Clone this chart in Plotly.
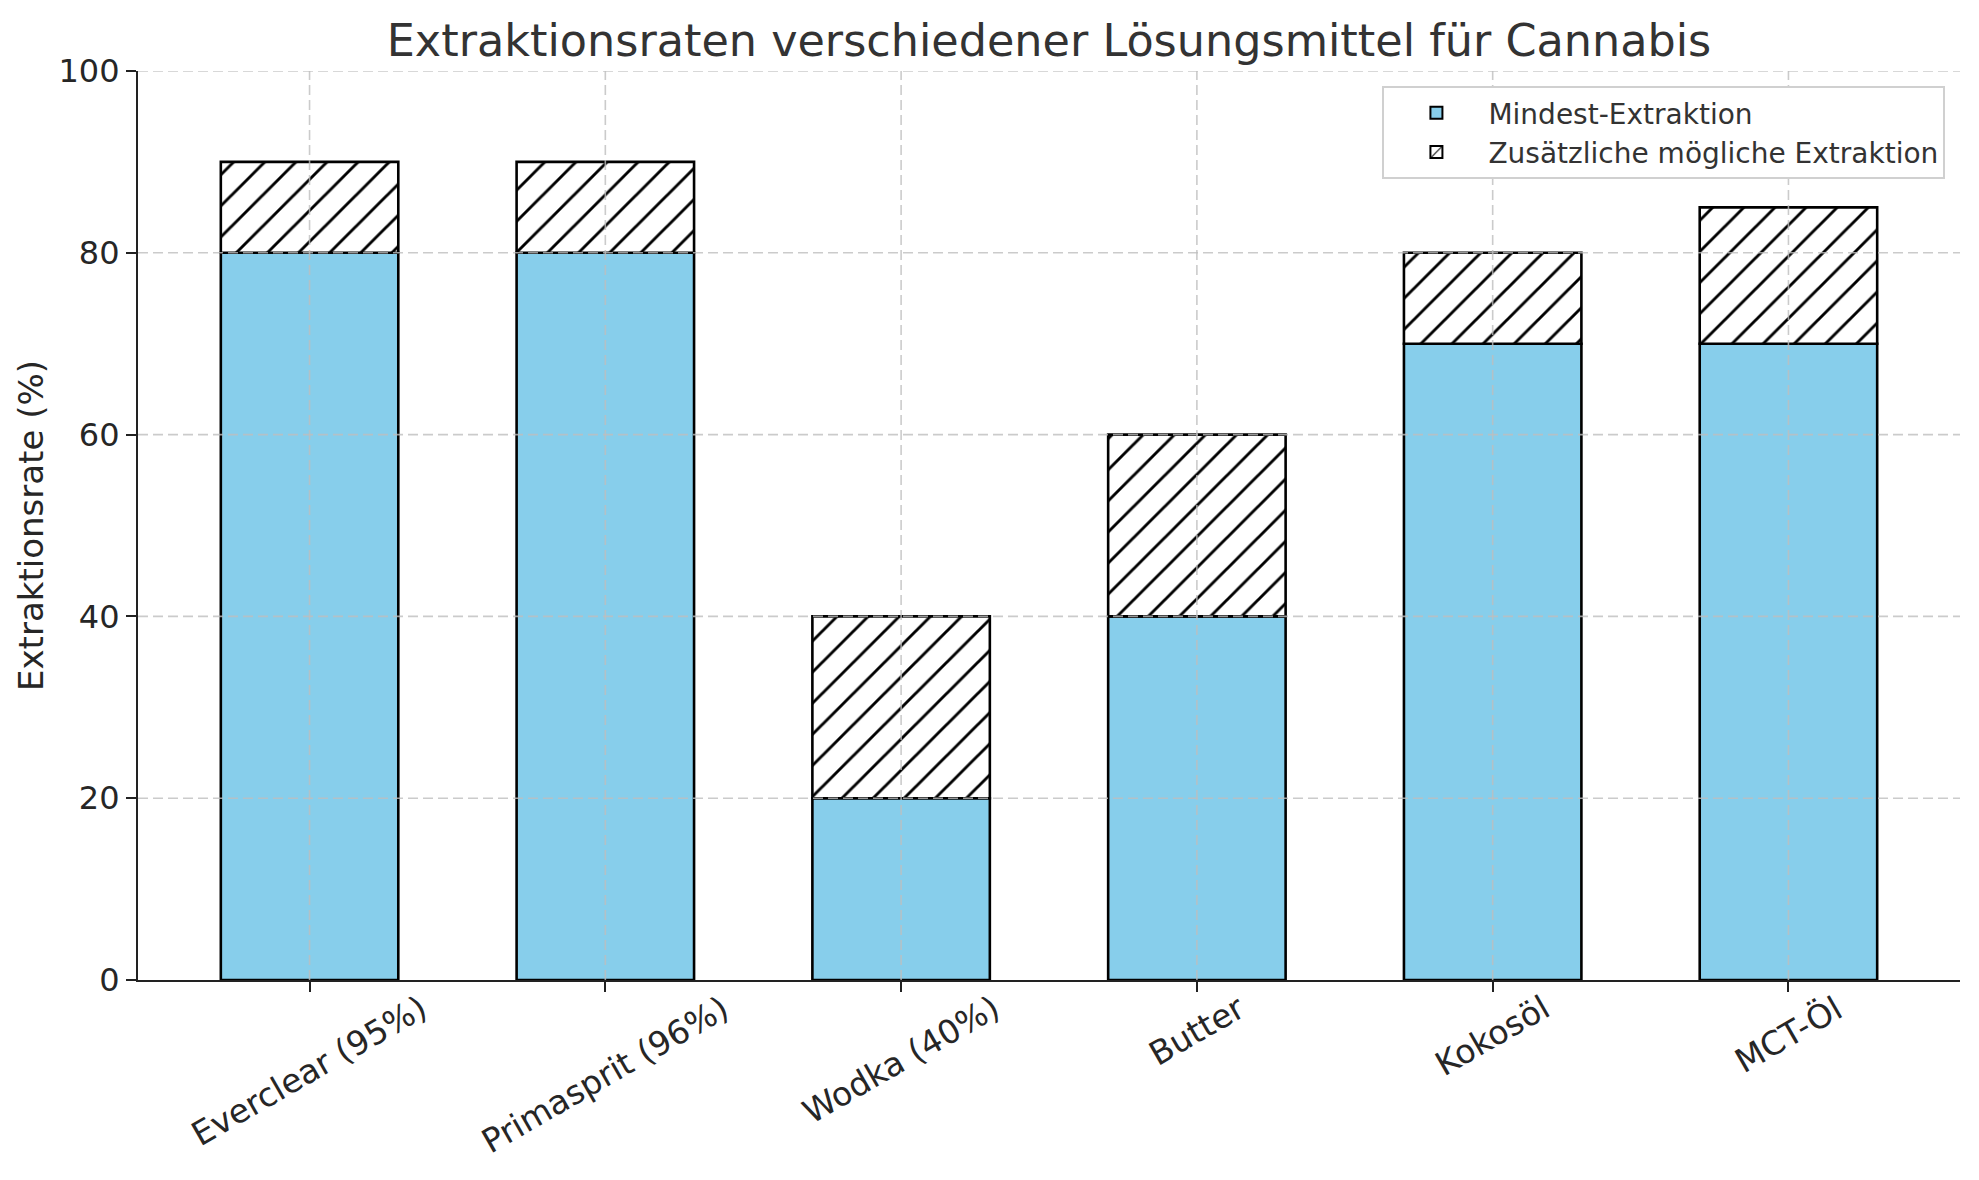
import plotly.graph_objects as go

categories = ["Everclear (95%)", "Primasprit (96%)", "Wodka (40%)", "Butter", "Kokosöl", "MCT-Öl"]
min_extraction = [80, 80, 20, 40, 70, 70]
extra_extraction = [10, 10, 20, 20, 10, 15]
y_ticks = [0, 20, 40, 60, 80, 100]

title = "Extraktionsraten verschiedener Lösungsmittel für Cannabis"
y_label = "Extraktionsrate (%)"
legend_names = ["Mindest-Extraktion", "Zusätzliche mögliche Extraktion"]

FONT = "DejaVu Sans"

fig = go.Figure()
fig.add_trace(go.Bar(
    x=categories, y=min_extraction, name=legend_names[0], width=0.6, opacity=1,
    marker=dict(color="#87CEEB", opacity=1, line=dict(color="black", width=2.6)),
))
fig.add_trace(go.Bar(
    x=categories, y=extra_extraction, base=min_extraction, name=legend_names[1], width=0.6, opacity=1,
    marker=dict(color="white", opacity=1, line=dict(color="black", width=2.6),
                pattern=dict(shape="/", fgcolor="#000000", fgopacity=1, bgcolor="white",
                             fillmode="replace", size=22, solidity=0.13)),
))

# grid lines drawn above the bars (as in the reference)
grid_style = dict(color="rgba(190,190,190,0.8)", width=1.6, dash="10px,5px")
for yv in y_ticks[1:]:
    fig.add_shape(type="line", xref="paper", x0=0, x1=1, yref="y", y0=yv, y1=yv,
                  line=grid_style, layer="above")
for c in categories:
    fig.add_shape(type="line", xref="x", x0=c, x1=c, yref="paper", y0=0, y1=1,
                  line=grid_style, layer="above")

# rotated, centred category labels
for c in categories:
    fig.add_annotation(text=c, x=c, xref="x", y=0, yref="paper", yshift=-5,
                       xanchor="center", yanchor="top", textangle=-30, showarrow=False,
                       font=dict(family=FONT, size=33, color="#262626"))

fig.update_layout(
    width=1979, height=1180,
    margin=dict(l=130, r=27, t=63, b=208),
    paper_bgcolor="white", plot_bgcolor="white",
    barmode="overlay",
    font=dict(family=FONT, color="#262626"),
    title=dict(text=title, x=0.5, xref="paper", xanchor="center", y=1 - 32 / 1180, yanchor="middle",
               font=dict(family=FONT, size=44.5, color="#333333")),
    legend=dict(x=0.992, y=0.9835, xanchor="right", yanchor="top", bgcolor="white",
                bordercolor="#d0d0d0", borderwidth=2, font=dict(family=FONT, size=28, color="#333333"),
                itemsizing="constant", itemwidth=94, tracegroupgap=0),
    showlegend=True,
)
fig.update_xaxes(
    type="category", range=[-0.58, 5.58], showgrid=False, showticklabels=False,
    ticks="outside", ticklen=10, tickwidth=2, tickcolor="#222222",
    showline=True, linecolor="#222222", linewidth=2.2, zeroline=False,
)
fig.update_yaxes(
    range=[0, 100], tickvals=y_ticks, showgrid=False,
    ticks="outside", ticklen=10, tickwidth=2, tickcolor="#222222",
    showline=True, linecolor="#222222", linewidth=2.2, zeroline=False,
    tickfont=dict(family=FONT, size=32, color="#262626"),
    title=dict(text=y_label, font=dict(family=FONT, size=34, color="#262626"), standoff=5),
)

fig.write_html("out.html")
